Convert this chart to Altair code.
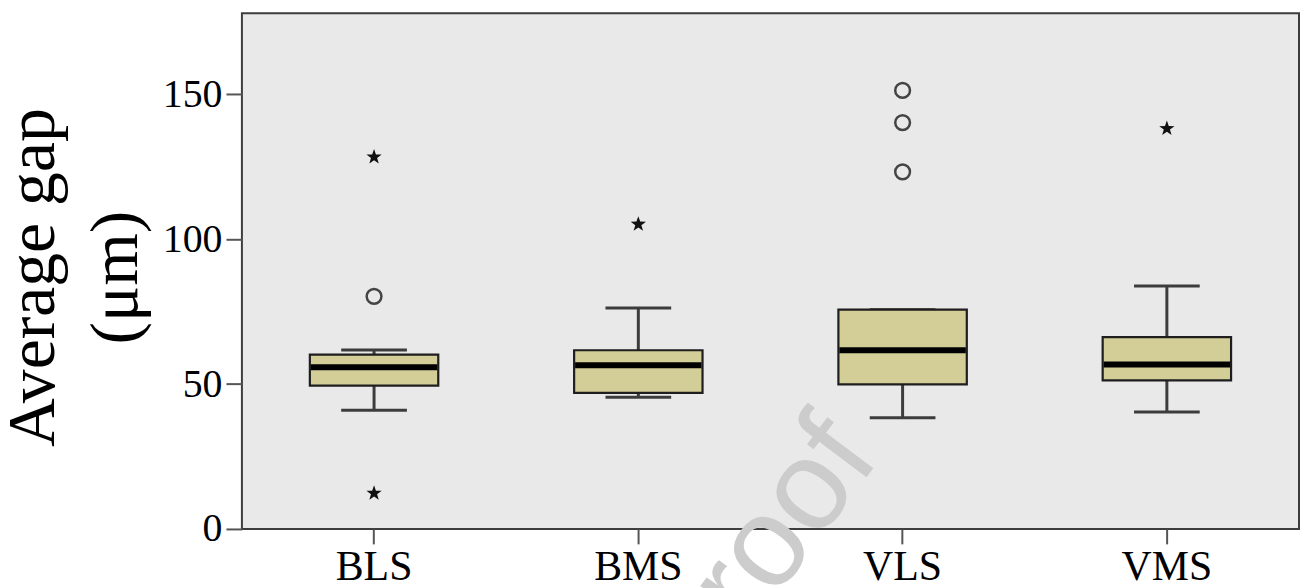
import altair as alt
import pandas as pd

categories = ["BLS", "BMS", "VLS", "VMS"]
whisker_lo = [41.0, 45.5, 38.4, 40.4]
q1 = [49.5, 47.0, 49.9, 51.3]
median = [55.8, 56.5, 61.7, 56.8]
q3 = [60.2, 61.7, 75.7, 66.2]
whisker_hi = [61.8, 76.3, 75.7, 83.9]

circle_cat = ["BLS", "VLS", "VLS", "VLS"]
circle_val = [80.3, 151.4, 140.3, 123.3]
star_cat = ["BLS", "BLS", "BMS", "VMS"]
star_val = [128.4, 12.3, 105.2, 138.2]

y_ticks = [0, 50, 100, 150]

box = pd.DataFrame({"cat": categories, "lo": whisker_lo, "q1": q1,
                    "med": median, "q3": q3, "hi": whisker_hi})
circ = pd.DataFrame({"cat": circle_cat, "v": circle_val})
star = pd.DataFrame({"cat": star_cat, "v": star_val})
wm = pd.DataFrame({"t": ["Proof"]})

SERIF = "Liberation Serif"
STAR = ("M0,-1L0.235,-0.324L0.951,-0.309L0.38,0.124L0.588,0.809L0,0.4"
        "L-0.588,0.809L-0.38,0.124L-0.951,-0.309L-0.235,-0.324Z")

xenc = alt.X("cat:N", sort=categories,
             scale=alt.Scale(paddingInner=0, paddingOuter=0),
             axis=alt.Axis(title=None, labelAngle=0, labelFont=SERIF,
                           labelFontSize=42, labelColor="black",
                           labelPadding=3, tickSize=15, tickWidth=2,
                           tickColor="#555555", domain=False, grid=False))
yscale = alt.Scale(domain=[0, 178], nice=False, zero=True)
yaxis = alt.Axis(values=y_ticks, labelFont=SERIF, labelFontSize=40,
                 labelColor="black", labelPadding=4, tickSize=16,
                 tickWidth=2, tickColor="#555555", domain=False, grid=False,
                 title=["Average gap", "(μm)"], titleFont=SERIF,
                 titleFontSize=68, titleFontWeight="normal",
                 titleColor="black", titleLineHeight=83, titleAngle=270,
                 titleX=-189, titleY=265, titleAlign="center",
                 titleBaseline="alphabetic")

base = alt.Chart(box)

watermark = alt.Chart(wm).mark_text(
    font="Liberation Sans", fontSize=128, angle=307, align="left",
    baseline="alphabetic", color="#cccccc"
).encode(x=alt.value(458), y=alt.value(691), text="t:N")

lower = base.mark_rule(color="#3c3c3c", strokeWidth=3, opacity=1).encode(
    x=xenc, y=alt.Y("lo:Q", scale=yscale, axis=yaxis), y2="q1:Q")
upper = base.mark_rule(color="#3c3c3c", strokeWidth=3, opacity=1).encode(
    x=xenc, y=alt.Y("q3:Q", scale=yscale, axis=yaxis), y2="hi:Q")
cap_lo = base.mark_tick(color="#3c3c3c", size=66, thickness=3,
                        opacity=1).encode(
    x=xenc, y=alt.Y("lo:Q", scale=yscale, axis=yaxis))
cap_hi = base.mark_tick(color="#3c3c3c", size=66, thickness=3,
                        opacity=1).encode(
    x=xenc, y=alt.Y("hi:Q", scale=yscale, axis=yaxis))
boxes = base.mark_bar(size=129, color="#d3ce98", stroke="#1e1e1e",
                      strokeWidth=2.2, opacity=1).encode(
    x=xenc, y=alt.Y("q1:Q", scale=yscale, axis=yaxis), y2="q3:Q")
med = base.mark_tick(color="black", size=127, thickness=6,
                     opacity=1).encode(
    x=xenc, y=alt.Y("med:Q", scale=yscale, axis=yaxis))

circles = alt.Chart(circ).mark_point(
    shape="circle", filled=False, size=220, stroke="#444444",
    strokeWidth=2.5, opacity=1).encode(
    x=xenc, y=alt.Y("v:Q", scale=yscale, axis=yaxis))
stars = alt.Chart(star).mark_point(
    shape=STAR, filled=True, size=260, color="#111111", opacity=1).encode(
    x=xenc, y=alt.Y("v:Q", scale=yscale, axis=yaxis))

chart = alt.layer(
    watermark, lower, upper, cap_lo, cap_hi, boxes, med, circles, stars
).properties(
    width=1062, height=518,
    autosize=alt.AutoSizeParams(type="none"),
    padding={"left": 235, "top": 4, "right": 2, "bottom": 66},
    background="white",
).configure_view(
    fill="#e9e9e9", stroke="#3d3d3d", strokeWidth=2
)

chart.save("out.html", embed_options={"renderer": "svg", "actions": False})
